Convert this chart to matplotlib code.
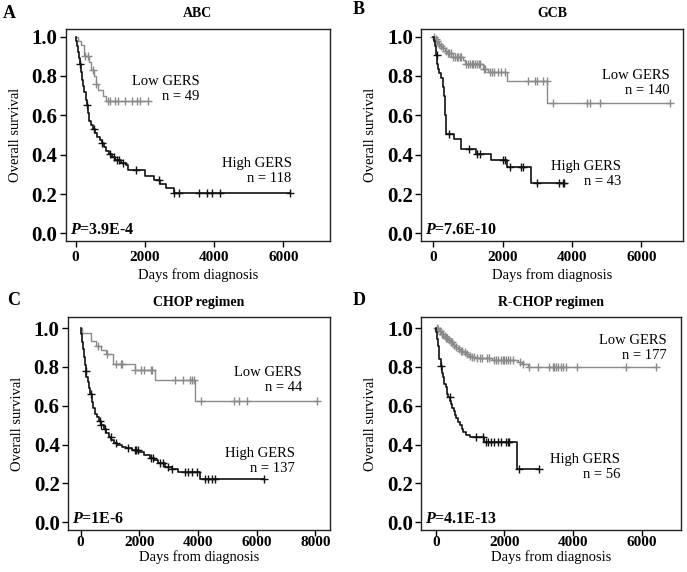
import matplotlib
matplotlib.use("Agg")
import matplotlib.pyplot as plt
import numpy as np

plt.rcParams["font.family"] = ["Liberation Serif", "DejaVu Serif"]
plt.rcParams["mathtext.fontset"] = "custom"
plt.rcParams["mathtext.it"] = "Liberation Serif:italic:bold"
plt.rcParams["mathtext.rm"] = "Liberation Serif:bold"

# ---- panel A: ABC ----
a_low_t = [60, 150, 230, 380, 450, 520, 580, 650, 780, 880]
a_low_s = [0.98, 0.96, 0.90, 0.87, 0.83, 0.80, 0.76, 0.73, 0.70, 0.673]
a_low_c = [270, 365, 510, 580, 945, 1000, 1140, 1235, 1430, 1623, 1768, 1864, 2104]
a_high_t = [20, 50, 80, 110, 130, 160, 190, 220, 250, 290, 330, 370, 400, 430, 500,
            560, 620, 700, 760, 820, 880, 950, 1050, 1150, 1300, 1450, 1520, 2010,
            2250, 2440, 2600, 2830]
a_high_s = [0.98, 0.95, 0.92, 0.89, 0.86, 0.82, 0.78, 0.75, 0.72, 0.68, 0.65, 0.61,
            0.57, 0.55, 0.53, 0.51, 0.49, 0.475, 0.46, 0.44, 0.42, 0.405, 0.39, 0.375,
            0.36, 0.345, 0.323, 0.292, 0.272, 0.25, 0.23, 0.207]
a_high_c = [140, 340, 520, 760, 1000, 1100, 1200, 1250, 1380, 1750, 2400, 2850,
            2975, 3554, 3797, 3942, 4183, 6191]

# ---- panel B: GCB ----
b_low_t = [30, 80, 130, 190, 250, 320, 400, 520, 850, 920, 1420, 1560, 2120, 3290]
b_low_s = [0.99, 0.978, 0.965, 0.952, 0.94, 0.928, 0.915, 0.898, 0.881, 0.859,
           0.838, 0.821, 0.774, 0.663]
b_low_c = [20, 60, 100, 150, 210, 280, 350, 420, 450, 500, 560, 620, 680, 720, 760,
           800, 950, 1000, 1050, 1100, 1150, 1200, 1250, 1300, 1350, 1450, 1500, 1620,
           1680, 1750, 1850, 1950, 2050, 2740, 2930, 2980, 3170, 3270, 3460, 4420,
           4520, 4800, 6820]
b_high_t = [25, 50, 75, 100, 130, 160, 220, 290, 310, 330, 345, 360, 375, 605, 798,
            1230, 1663, 2124, 2816]
b_high_s = [0.977, 0.953, 0.907, 0.86, 0.837, 0.814, 0.79, 0.744, 0.70, 0.651, 0.60,
            0.558, 0.507, 0.481, 0.43, 0.405, 0.371, 0.337, 0.257]
b_high_c = [98, 461, 1037, 1250, 1330, 2000, 2050, 2220, 2527, 2575, 2990, 3632,
            3728, 3776]

# ---- panel C: CHOP ----
c_low_t = [30, 362, 533, 703, 874, 1102, 1843, 2546, 3890]
c_low_s = [0.977, 0.932, 0.91, 0.887, 0.865, 0.813, 0.784, 0.733, 0.626]
c_low_c = [590, 898, 1216, 1365, 1410, 1843, 2070, 2160, 2390, 2440, 3230, 3480,
           3720, 3800, 3860, 4117, 5210, 5380, 5666, 8055]
c_high_t = [20, 50, 80, 110, 140, 170, 200, 240, 280, 330, 380, 430, 490, 560, 620,
            700, 780, 870, 950, 1050, 1150, 1250, 1400, 1560, 1750, 1960, 2150, 2350,
            2500, 2640, 2870, 3100, 3320, 4060]
c_high_s = [0.97, 0.93, 0.89, 0.85, 0.81, 0.78, 0.75, 0.72, 0.69, 0.66, 0.62, 0.59,
            0.56, 0.54, 0.52, 0.50, 0.48, 0.46, 0.44, 0.425, 0.41, 0.40, 0.39, 0.38,
            0.37, 0.36, 0.345, 0.33, 0.318, 0.304, 0.287, 0.274, 0.261, 0.221]
c_high_c = [191, 341, 648, 700, 840, 1024, 1215, 1614, 1843, 1900, 1956, 2410, 2470,
            2700, 2810, 2980, 3110, 3550, 3660, 3800, 3950, 4232, 4346, 4460, 4573, 6232]

# ---- panel D: R-CHOP ----
d_low_t = [40, 100, 160, 220, 290, 350, 420, 490, 560, 640, 720, 800, 880, 960, 1050,
           1130, 1650, 2380, 2500, 2680]
d_low_s = [0.994, 0.983, 0.972, 0.96, 0.95, 0.938, 0.927, 0.915, 0.905, 0.894, 0.884,
           0.875, 0.866, 0.858, 0.851, 0.844, 0.835, 0.825, 0.815, 0.797]
d_low_c = [30, 70, 120, 180, 210, 260, 300, 330, 380, 440, 470, 520, 600, 680, 720,
           760, 840, 900, 1000, 1060, 1100, 1200, 1280, 1350, 1500, 1560, 1700, 1750,
           1800, 1900, 1950, 2000, 2050, 2100, 2150, 2250, 2450, 2550, 2700, 2990,
           3300, 3400, 3450, 3500, 3550, 3650, 3700, 3800, 4100, 5540, 6414]
d_high_t = [15, 35, 55, 80, 100, 140, 180, 210, 250, 290, 320, 360, 400, 440, 480,
            520, 560, 600, 650, 700, 760, 800, 880, 980, 1390, 2360]
d_high_s = [0.982, 0.946, 0.91, 0.875, 0.84, 0.804, 0.768, 0.75, 0.714, 0.696, 0.66,
            0.643, 0.625, 0.607, 0.589, 0.571, 0.553, 0.535, 0.518, 0.5, 0.482, 0.466,
            0.45, 0.437, 0.411, 0.275]
d_high_c = [154, 397, 1173, 1367, 1464, 1513, 1610, 1706, 1804, 1900, 2046, 2095,
            2143, 2434, 3016]

top_row = dict(ylim=(-0.038, 1.041), xpad=3.5, xlabelpad=3)
bottom_row = dict(ylim=(-0.04, 1.057), xpad=0.5, xlabelpad=0.5)

panels = [
    dict(letter="A", title="ABC", pval="3.9E-4", n_low=49, n_high=118,
         low=(a_low_t, a_low_s, a_low_c), high=(a_high_t, a_high_s, a_high_c),
         xlim=(-280, 7340), xticks=[0, 2000, 4000, 6000],
         low_xy=(3580, 0.735), high_xy=(6240, 0.315),
         rect=[0.096, 0.579, 0.384, 0.371], row=top_row),
    dict(letter="B", title="GCB", pval="7.6E-10", n_low=140, n_high=43,
         low=(b_low_t, b_low_s, b_low_c), high=(b_high_t, b_high_s, b_high_c),
         xlim=(-355, 7195), xticks=[0, 2000, 4000, 6000],
         low_xy=(6820, 0.765), high_xy=(5410, 0.30),
         rect=[0.613, 0.579, 0.381, 0.371], row=top_row),
    dict(letter="C", title="CHOP regimen", pval="1E-6", n_low=44, n_high=137,
         low=(c_low_t, c_low_s, c_low_c), high=(c_high_t, c_high_s, c_high_c),
         xlim=(-430, 8490), xticks=[0, 2000, 4000, 6000, 8000],
         low_xy=(7540, 0.73), high_xy=(7310, 0.315),
         rect=[0.099, 0.0734, 0.381, 0.3724], row=bottom_row),
    dict(letter="D", title="R-CHOP regimen", pval="4.1E-13", n_low=177, n_high=56,
         low=(d_low_t, d_low_s, d_low_c), high=(d_high_t, d_high_s, d_high_c),
         xlim=(-430, 7140), xticks=[0, 2000, 4000, 6000],
         low_xy=(6725, 0.895), high_xy=(5365, 0.283),
         rect=[0.613, 0.0734, 0.378, 0.3724], row=bottom_row),
]


def km_curve(ax, times, surv, censor, color, lw):
    t = np.r_[0.0, times]
    s = np.r_[1.0, surv]
    end = max(max(censor), t[-1])
    x = np.r_[t, end]
    y = np.r_[s, s[-1]]
    ax.step(x, y, where="post", color=color, lw=lw)
    idx = np.searchsorted(t, censor, side="right") - 1
    ax.plot(censor, s[idx], ls="none", marker="+", ms=5.5, mew=1.0, color=color)


fig = plt.figure(figsize=(6.87, 5.72), dpi=100)

for p in panels:
    row = p["row"]
    ax = fig.add_axes(p["rect"])
    km_curve(ax, *p["low"], color="#8a8a8a", lw=1.0)
    km_curve(ax, *p["high"], color="#111111", lw=1.2)
    ax.set_xlim(*p["xlim"])
    ax.set_ylim(*row["ylim"])
    ax.set_xticks(p["xticks"])
    ax.set_yticks([0.0, 0.2, 0.4, 0.6, 0.8, 1.0])
    ax.set_yticklabels(["0.0", "0.2", "0.4", "0.6", "0.8", "1.0"])
    ax.tick_params(axis="y", labelsize=15, length=4, width=1, pad=2)
    ax.tick_params(axis="x", labelsize=11, length=4, width=1, pad=row["xpad"])
    for lab in ax.get_xticklabels() + ax.get_yticklabels():
        lab.set_fontweight("bold")
    for sp in ax.spines.values():
        sp.set_linewidth(1.0)
        sp.set_color("#222222")
    ax.set_xlabel("Days from diagnosis", fontsize=10.5, labelpad=row["xlabelpad"])
    ax.set_ylabel("Overall survival", fontsize=10.5, labelpad=7)
    ax.set_title(p["title"], fontsize=10, fontweight="bold", pad=8)
    ax.text(*p["low_xy"], "Low GERS\nn = %d" % p["n_low"], ha="right", va="center",
            multialignment="right", fontsize=10.5)
    ax.text(*p["high_xy"], "High GERS\nn = %d" % p["n_high"], ha="right", va="center",
            multialignment="right", fontsize=10.5)
    ax.text(0.015, 0.05, r"$P$=" + p["pval"], transform=ax.transAxes,
            fontsize=11.5, fontweight="bold", ha="left", va="center")

fig.text(0.004, 0.977, "A", fontsize=13, fontweight="bold", va="center")
fig.text(0.513, 0.984, "B", fontsize=13, fontweight="bold", va="center")
fig.text(0.011, 0.474, "C", fontsize=13, fontweight="bold", va="center")
fig.text(0.513, 0.474, "D", fontsize=13, fontweight="bold", va="center")

fig.savefig("out.png", dpi=100)
